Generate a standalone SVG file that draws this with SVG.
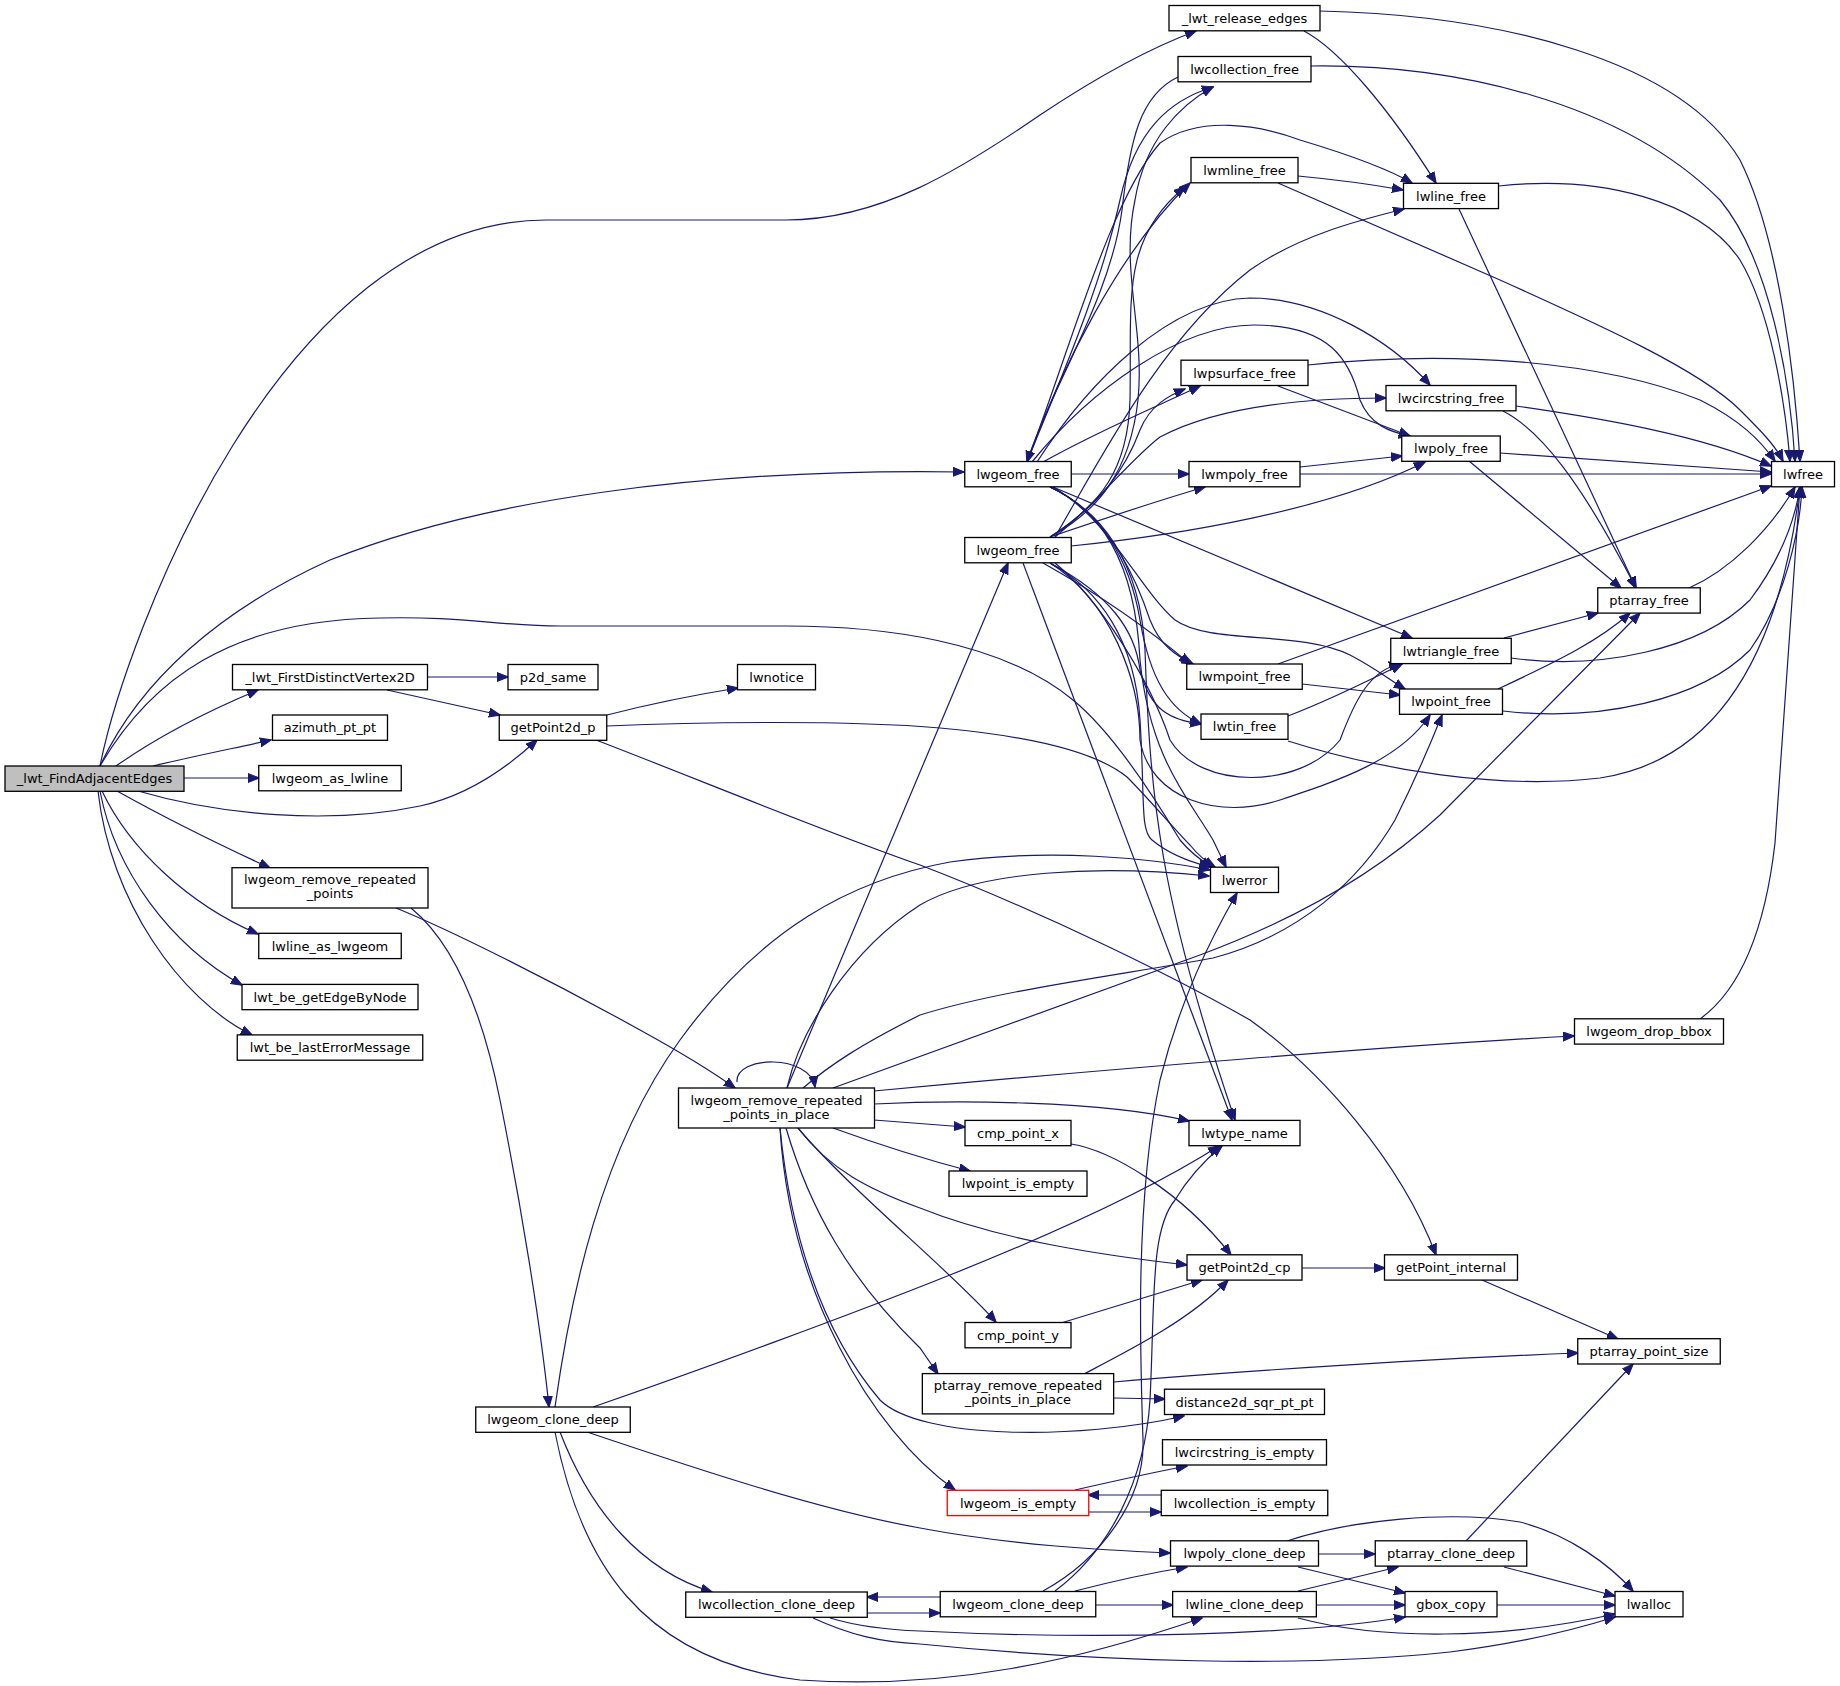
<svg xmlns="http://www.w3.org/2000/svg" width="1840" height="1686" viewBox="0 0 1840 1686">
<style>
.n rect{fill:#fff;stroke:#000;stroke-width:1.3}
.n text{font-family:"DejaVu Sans","Liberation Sans",Arial,sans-serif;font-size:13px;text-anchor:middle;fill:#000}
.e path{fill:none;stroke:#191970;stroke-width:1.2;marker-end:url(#a)}
</style>
<defs>
<marker id="a" markerWidth="12" markerHeight="10" refX="11" refY="5" orient="auto" markerUnits="userSpaceOnUse"><path d="M0,0.5 L11.5,5 L0,9.5 z" fill="#191970" stroke="#191970" stroke-width="1"/></marker>
</defs>
<rect width="1840" height="1686" fill="#fff"/>
<g id="connectors" class="e">
<path d="M100,766 C125,640 280,220 546,220 L786,220 C880,220 960,170 1040,115 C1100,75 1150,48 1196,31"/>
<path d="M100,766 C140,680 220,610 330,560 C480,500 700,468 964,472"/>
<path d="M100,766 C150,680 230,620 380,618 C460,616 500,626 560,626 L786,626 C880,626 1000,640 1073,700 C1110,730 1150,790 1180,840 C1190,852 1200,860 1212,867"/>
<path d="M116,766 C160,735 215,708 258,690"/>
<path d="M153,766 C190,757 235,748 271,740"/>
<path d="M184,778 L259,778"/>
<path d="M138,791 C220,815 330,825 420,806 C470,795 510,765 537,740"/>
<path d="M117,791 C160,815 220,845 270,868"/>
<path d="M102,791 C130,850 190,905 258,934"/>
<path d="M100,791 C115,870 170,945 242,985"/>
<path d="M98,791 C110,900 180,1000 252,1035"/>
<path d="M427,677 L508,677"/>
<path d="M387,690 L500,715"/>
<path d="M607,715 C650,704 700,694 738,688"/>
<path d="M607,726 C700,722 850,720 940,728 C1040,737 1100,755 1127,777 C1150,800 1175,830 1190,845 C1198,855 1205,861 1215,867"/>
<path d="M596,740 C700,780 820,830 920,865 C1050,915 1180,980 1250,1020 C1320,1070 1400,1160 1436,1255"/>
<path d="M411,908 C450,940 480,1000 500,1100 C520,1200 540,1320 549,1407"/>
<path d="M396,908 C450,930 550,980 640,1030 C680,1052 710,1070 735,1088"/>
<path d="M737,1082 C735,1055 810,1054 815,1087"/>
<path d="M787,1088 L1008,563"/>
<path d="M787,1088 C800,1030 850,950 920,905 C980,870 1100,865 1209,876"/>
<path d="M803,1088 C830,1065 860,1045 920,1015 C1000,990 1120,975 1213,958 C1300,935 1360,880 1395,820 C1415,780 1432,740 1442,715"/>
<path d="M833,1088 L1200,955 C1300,918 1380,870 1440,815 L1640,613"/>
<path d="M874,1091 C1100,1070 1400,1045 1574,1036"/>
<path d="M874,1104 C950,1100 1100,1100 1189,1121"/>
<path d="M874,1120 L965,1127"/>
<path d="M833,1128 C880,1145 920,1158 970,1171"/>
<path d="M798,1128 C830,1170 870,1190 920,1208 C1000,1240 1100,1255 1187,1265"/>
<path d="M798,1128 C850,1190 950,1270 996,1322"/>
<path d="M786,1128 C810,1210 850,1280 920,1348 L938,1374"/>
<path d="M780,1128 C790,1230 820,1330 880,1400 C920,1440 1080,1440 1184,1416"/>
<path d="M780,1128 C790,1290 870,1430 955,1490"/>
<path d="M555,1407 C570,1300 600,1150 680,1040 C760,930 850,880 950,862 C1050,848 1150,858 1210,870"/>
<path d="M593,1407 C700,1370 850,1315 950,1275 C1050,1235 1150,1190 1219,1146"/>
<path d="M560,1432 C590,1510 640,1570 712,1592"/>
<path d="M555,1432 C580,1560 640,1660 800,1680 C950,1690 1080,1660 1202,1618"/>
<path d="M587,1432 C700,1470 820,1510 920,1528 C1010,1545 1100,1550 1170,1553"/>
<path d="M867,1613 L940,1613"/>
<path d="M830,1618 C860,1627 890,1630 920,1631 C1100,1640 1300,1635 1405,1617"/>
<path d="M813,1618 C850,1635 880,1642 920,1644 C1100,1662 1300,1668 1450,1652 C1530,1642 1580,1628 1615,1617"/>
<path d="M940,1597 L867,1597"/>
<path d="M1095,1605 L1173,1605"/>
<path d="M1075,1591 C1110,1582 1150,1573 1187,1567"/>
<path d="M1043,1591 C1100,1560 1145,1500 1143,1440 C1140,1350 1135,1200 1160,1080 C1180,1000 1210,940 1237,893"/>
<path d="M1055,1591 C1110,1550 1145,1480 1150,1400 C1155,1300 1150,1230 1175,1200 C1190,1175 1205,1160 1222,1146"/>
<path d="M1318,1554 L1375,1554"/>
<path d="M1298,1567 L1405,1593"/>
<path d="M1287,1541 C1350,1520 1450,1510 1520,1522 C1570,1535 1610,1565 1633,1591"/>
<path d="M1466,1541 L1633,1364"/>
<path d="M1504,1567 L1615,1596"/>
<path d="M1298,1591 L1398,1567"/>
<path d="M1317,1605 L1405,1605"/>
<path d="M1298,1618 C1380,1640 1500,1640 1615,1614"/>
<path d="M1497,1605 L1615,1605"/>
<path d="M1075,1490 C1110,1482 1150,1473 1187,1466"/>
<path d="M1161,1495 L1088,1495"/>
<path d="M1088,1512 L1161,1512"/>
<path d="M1084,1374 C1130,1350 1190,1320 1228,1280"/>
<path d="M1114,1382 C1250,1370 1450,1358 1578,1353"/>
<path d="M1114,1398 L1165,1399"/>
<path d="M1071,1144 C1110,1150 1180,1190 1231,1255"/>
<path d="M1061,1323 L1202,1280"/>
<path d="M1302,1268 L1385,1268"/>
<path d="M1482,1280 L1618,1339"/>
<path d="M1700,1019 C1740,990 1765,930 1775,843 C1785,700 1795,560 1800,487"/>
<path d="M1027,462 C1060,380 1100,290 1120,200 C1135,130 1170,100 1213,87"/>
<path d="M1027,462 C1060,370 1120,250 1190,183"/>
<path d="M1027,462 C1070,350 1110,200 1160,143 C1200,115 1260,125 1300,140 C1350,155 1390,170 1412,183"/>
<path d="M1037,462 C1090,380 1170,300 1250,298 C1320,298 1390,340 1430,385"/>
<path d="M1032,462 C1090,390 1180,325 1254,325 C1330,325 1350,360 1360,400 C1370,425 1390,432 1410,436"/>
<path d="M1043,462 C1100,430 1160,405 1200,386"/>
<path d="M1071,474 L1189,474"/>
<path d="M1053,487 L1412,638"/>
<path d="M1053,487 C1110,520 1140,590 1175,620 C1210,645 1300,630 1350,655 C1375,668 1390,680 1405,689"/>
<path d="M1050,487 C1100,510 1130,560 1150,620 C1160,645 1175,655 1193,664"/>
<path d="M1050,487 C1100,510 1130,560 1140,620 C1150,680 1170,710 1201,724"/>
<path d="M1050,487 C1100,510 1135,560 1140,660 C1150,760 1190,800 1213,840 L1226,867"/>
<path d="M1050,487 C1100,510 1140,560 1145,650 C1150,800 1160,900 1235,1120"/>
<path d="M1178,77 C1140,95 1130,140 1122,210 C1110,300 1050,390 1027,462"/>
<path d="M1311,66 C1450,64 1620,100 1720,200 C1770,260 1790,380 1795,461"/>
<path d="M1050,537 C1100,510 1130,470 1138,400 C1145,330 1120,270 1135,200 C1145,140 1180,105 1213,87"/>
<path d="M1050,537 C1100,505 1128,470 1130,400 C1132,300 1120,240 1185,187"/>
<path d="M1055,537 C1100,460 1160,340 1250,270 C1300,235 1360,220 1404,209"/>
<path d="M1050,537 C1100,505 1125,470 1140,430 C1150,405 1170,395 1185,389"/>
<path d="M1055,537 C1100,500 1130,460 1160,437 C1220,405 1310,398 1386,398"/>
<path d="M1050,537 C1100,520 1160,500 1205,487"/>
<path d="M1071,546 C1180,535 1330,510 1425,462"/>
<path d="M1043,563 C1100,595 1150,630 1190,664"/>
<path d="M1050,563 C1110,595 1135,630 1140,670 C1150,710 1170,720 1201,724"/>
<path d="M1055,563 C1100,600 1150,680 1170,740 C1200,790 1300,790 1340,740 C1355,700 1370,670 1400,664"/>
<path d="M1050,563 C1110,600 1140,680 1140,740 C1150,800 1220,820 1280,800 C1340,780 1400,760 1430,715"/>
<path d="M1050,563 C1100,590 1135,640 1140,720 C1145,800 1140,830 1152,840 C1170,855 1190,862 1210,867"/>
<path d="M1023,563 L1232,1120"/>
<path d="M1320,11 C1500,15 1680,60 1740,160 C1780,240 1795,380 1800,461"/>
<path d="M1304,31 C1340,50 1390,110 1436,183"/>
<path d="M1298,176 C1340,180 1370,184 1403,190"/>
<path d="M1278,183 L1500,280 C1600,325 1700,370 1740,410 C1760,430 1775,445 1783,461"/>
<path d="M1499,186 C1600,175 1700,200 1740,260 C1770,310 1785,400 1790,461"/>
<path d="M1459,209 L1636,588"/>
<path d="M1308,365 C1450,350 1600,360 1700,400 C1740,420 1760,440 1775,461"/>
<path d="M1278,386 L1410,436"/>
<path d="M1516,406 C1600,418 1700,435 1771,466"/>
<path d="M1503,411 C1540,430 1580,480 1636,588"/>
<path d="M1500,453 L1771,472"/>
<path d="M1469,461 L1621,588"/>
<path d="M1300,467 L1402,456"/>
<path d="M1300,474 L1771,474"/>
<path d="M1689,588 C1730,570 1770,530 1795,487"/>
<path d="M1504,638 L1598,613"/>
<path d="M1511,658 C1600,670 1700,650 1750,600 C1780,560 1795,520 1800,487"/>
<path d="M1302,684 L1400,695"/>
<path d="M1278,664 L1771,486"/>
<path d="M1498,689 C1560,660 1600,640 1630,613"/>
<path d="M1503,711 C1600,722 1700,700 1750,650 C1785,600 1800,530 1802,487"/>
<path d="M1288,716 C1330,700 1370,680 1402,664"/>
<path d="M1288,741 C1380,770 1500,790 1600,778 C1720,760 1780,650 1800,487"/>
</g>
<g id="n1" class="n"><rect x="5" y="766" width="179" height="25.3" style="fill:#bfbfbf"/><text x="94.5" y="783.3">_lwt_FindAdjacentEdges</text></g>
<g id="n2" class="n"><rect x="1169" y="5.5" width="151" height="25.3"/><text x="1244.5" y="22.8">_lwt_release_edges</text></g>
<g id="n3" class="n"><rect x="1178" y="56.5" width="133" height="25.3"/><text x="1244.5" y="73.8">lwcollection_free</text></g>
<g id="n4" class="n"><rect x="1191" y="157.5" width="107" height="25.3"/><text x="1244.5" y="174.8">lwmline_free</text></g>
<g id="n5" class="n"><rect x="1403.5" y="183.3" width="95" height="25.3"/><text x="1451" y="200.6">lwline_free</text></g>
<g id="n6" class="n"><rect x="1181" y="360.2" width="127" height="25.3"/><text x="1244.5" y="377.5">lwpsurface_free</text></g>
<g id="n7" class="n"><rect x="1386" y="385.5" width="130" height="25.3"/><text x="1451" y="402.8">lwcircstring_free</text></g>
<g id="n8" class="n"><rect x="1401.75" y="436" width="98.5" height="25.3"/><text x="1451" y="453.3">lwpoly_free</text></g>
<g id="n9" class="n"><rect x="964.75" y="461.5" width="106.5" height="25.3"/><text x="1018" y="478.8">lwgeom_free</text></g>
<g id="n10" class="n"><rect x="1189" y="461.5" width="111" height="25.3"/><text x="1244.5" y="478.8">lwmpoly_free</text></g>
<g id="n11" class="n"><rect x="1771.5" y="461.5" width="63" height="25.3"/><text x="1803" y="478.8">lwfree</text></g>
<g id="n12" class="n"><rect x="964.75" y="537.5" width="106.5" height="25.3"/><text x="1018" y="554.8">lwgeom_free</text></g>
<g id="n13" class="n"><rect x="1597.75" y="587.8" width="102.5" height="25.3"/><text x="1649" y="605.1">ptarray_free</text></g>
<g id="n14" class="n"><rect x="1390.75" y="638.3" width="120.5" height="25.3"/><text x="1451" y="655.6">lwtriangle_free</text></g>
<g id="n15" class="n"><rect x="1186.75" y="664" width="115.5" height="25.3"/><text x="1244.5" y="681.3">lwmpoint_free</text></g>
<g id="n16" class="n"><rect x="1399.5" y="689" width="103" height="25.3"/><text x="1451" y="706.3">lwpoint_free</text></g>
<g id="n17" class="n"><rect x="1201" y="714" width="87" height="25.3"/><text x="1244.5" y="731.3">lwtin_free</text></g>
<g id="n18" class="n"><rect x="232.5" y="664.5" width="195" height="25.3"/><text x="330" y="681.8">_lwt_FirstDistinctVertex2D</text></g>
<g id="n19" class="n"><rect x="508" y="664.5" width="90" height="25.3"/><text x="553" y="681.8">p2d_same</text></g>
<g id="n20" class="n"><rect x="737.5" y="664.5" width="78" height="25.3"/><text x="776.5" y="681.8">lwnotice</text></g>
<g id="n21" class="n"><rect x="272.5" y="715" width="115" height="25.3"/><text x="330" y="732.3">azimuth_pt_pt</text></g>
<g id="n22" class="n"><rect x="499.25" y="715" width="107.5" height="25.3"/><text x="553" y="732.3">getPoint2d_p</text></g>
<g id="n23" class="n"><rect x="258.75" y="765.5" width="142.5" height="25.3"/><text x="330" y="782.8">lwgeom_as_lwline</text></g>
<g id="n24" class="n"><rect x="1210.5" y="867.2" width="68" height="25.3"/><text x="1244.5" y="884.5">lwerror</text></g>
<g id="n25" class="n"><rect x="232" y="867.7" width="196" height="40.3"/><text x="330" y="884.4">lwgeom_remove_repeated</text><text x="330" y="898.4">_points</text></g>
<g id="n26" class="n"><rect x="258.75" y="933.3" width="142.5" height="25.3"/><text x="330" y="950.6">lwline_as_lwgeom</text></g>
<g id="n27" class="n"><rect x="242" y="984.4" width="176" height="25.3"/><text x="330" y="1001.7">lwt_be_getEdgeByNode</text></g>
<g id="n28" class="n"><rect x="1574.5" y="1018.8" width="149" height="25.3"/><text x="1649" y="1036.1">lwgeom_drop_bbox</text></g>
<g id="n29" class="n"><rect x="237.25" y="1034.9" width="185.5" height="25.3"/><text x="330" y="1052.2">lwt_be_lastErrorMessage</text></g>
<g id="n30" class="n"><rect x="678.5" y="1088" width="196" height="40"/><text x="776.5" y="1104.6">lwgeom_remove_repeated</text><text x="776.5" y="1118.6">_points_in_place</text></g>
<g id="n31" class="n"><rect x="965" y="1120.4" width="106" height="25.3"/><text x="1018" y="1137.7">cmp_point_x</text></g>
<g id="n32" class="n"><rect x="1189" y="1120.4" width="111" height="25.3"/><text x="1244.5" y="1137.7">lwtype_name</text></g>
<g id="n33" class="n"><rect x="949" y="1171" width="138" height="25.3"/><text x="1018" y="1188.3">lwpoint_is_empty</text></g>
<g id="n34" class="n"><rect x="1187" y="1254.8" width="115" height="25.3"/><text x="1244.5" y="1272.1">getPoint2d_cp</text></g>
<g id="n35" class="n"><rect x="1384.5" y="1254.8" width="133" height="25.3"/><text x="1451" y="1272.1">getPoint_internal</text></g>
<g id="n36" class="n"><rect x="965" y="1322.5" width="106" height="25.3"/><text x="1018" y="1339.8">cmp_point_y</text></g>
<g id="n37" class="n"><rect x="1577.75" y="1338.7" width="142.5" height="25.3"/><text x="1649" y="1356">ptarray_point_size</text></g>
<g id="n38" class="n"><rect x="922.35" y="1373.6" width="191.3" height="40.3"/><text x="1018" y="1390.2">ptarray_remove_repeated</text><text x="1018" y="1404.2">_points_in_place</text></g>
<g id="n39" class="n"><rect x="1164.5" y="1389.2" width="160" height="25.3"/><text x="1244.5" y="1406.5">distance2d_sqr_pt_pt</text></g>
<g id="n40" class="n"><rect x="475.75" y="1407" width="154.5" height="25.3"/><text x="553" y="1424.3">lwgeom_clone_deep</text></g>
<g id="n41" class="n"><rect x="1162.5" y="1439.7" width="164" height="25.3"/><text x="1244.5" y="1457">lwcircstring_is_empty</text></g>
<g id="n42" class="n"><rect x="947.25" y="1490.3" width="141.5" height="25.3" style="stroke:#ff0000"/><text x="1018" y="1507.6">lwgeom_is_empty</text></g>
<g id="n43" class="n"><rect x="1161.25" y="1490.3" width="166.5" height="25.3"/><text x="1244.5" y="1507.6">lwcollection_is_empty</text></g>
<g id="n44" class="n"><rect x="1170.5" y="1540.8" width="148" height="25.3"/><text x="1244.5" y="1558.1">lwpoly_clone_deep</text></g>
<g id="n45" class="n"><rect x="1375.25" y="1540.8" width="151.5" height="25.3"/><text x="1451" y="1558.1">ptarray_clone_deep</text></g>
<g id="n46" class="n"><rect x="685.75" y="1592" width="181.5" height="25.3"/><text x="776.5" y="1609.3">lwcollection_clone_deep</text></g>
<g id="n47" class="n"><rect x="940.25" y="1591.5" width="155.5" height="25.3"/><text x="1018" y="1608.8">lwgeom_clone_deep</text></g>
<g id="n48" class="n"><rect x="1172.65" y="1591.5" width="143.7" height="25.3"/><text x="1244.5" y="1608.8">lwline_clone_deep</text></g>
<g id="n49" class="n"><rect x="1405" y="1591.5" width="92" height="25.3"/><text x="1451" y="1608.8">gbox_copy</text></g>
<g id="n50" class="n"><rect x="1615" y="1591.5" width="68" height="25.3"/><text x="1649" y="1608.8">lwalloc</text></g>
</svg>
